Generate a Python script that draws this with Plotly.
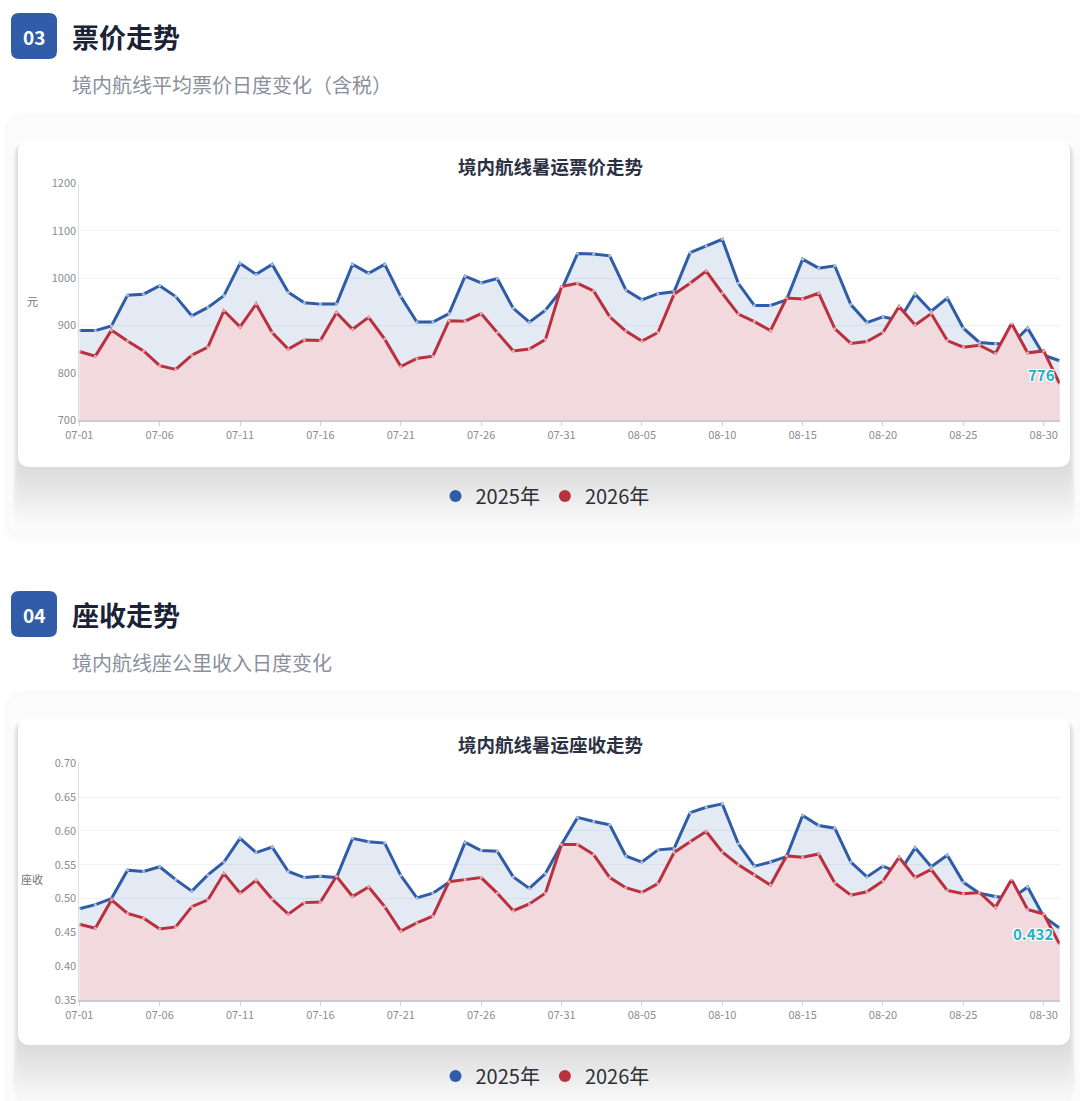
import plotly.graph_objects as go

W, H = 1080, 1101

# ---------------- data ----------------
dates = [f"07-{d:02d}" for d in range(1, 32)] + [f"08-{d:02d}" for d in range(1, 32)]
tick_labels = dates[::5]

price_2025 = [889, 889, 899, 964, 966, 984, 961, 920, 938, 963,
              1031, 1008, 1029, 970, 948, 945, 945, 1029, 1010, 1029,
              961, 907, 907, 925, 1004, 990, 999, 936, 907, 932,
              975, 1052, 1051, 1047, 975, 954, 967, 971, 1054, 1068,
              1082, 989, 942, 942, 954, 1040, 1021, 1026, 944, 906,
              918, 911, 966, 930, 958, 894, 864, 861, 861, 894,
              837, 825]
price_2026 = [845, 835, 890, 867, 846, 815, 807, 837, 854, 931,
              897, 945, 885, 850, 869, 868, 927, 892, 917, 871,
              813, 830, 835, 910, 909, 925, 885, 846, 850, 870,
              982, 989, 973, 918, 888, 867, 885, 966, 989, 1015,
              968, 924, 908, 889, 958, 956, 968, 893, 862, 866,
              885, 940, 901, 925, 868, 854, 858, 841, 904, 842,
              846, 776]

seat_2025 = [0.485, 0.491, 0.500, 0.542, 0.540, 0.547, 0.528, 0.511, 0.535, 0.554,
             0.589, 0.568, 0.576, 0.540, 0.531, 0.533, 0.531, 0.589, 0.584, 0.582,
             0.534, 0.501, 0.508, 0.524, 0.583, 0.571, 0.570, 0.532, 0.515, 0.537,
             0.580, 0.620, 0.614, 0.609, 0.563, 0.554, 0.572, 0.574, 0.627, 0.635,
             0.640, 0.581, 0.548, 0.554, 0.562, 0.623, 0.608, 0.604, 0.554, 0.532,
             0.548, 0.538, 0.575, 0.547, 0.564, 0.524, 0.508, 0.503, 0.500, 0.517,
             0.473, 0.456]
seat_2026 = [0.462, 0.456, 0.498, 0.478, 0.471, 0.455, 0.458, 0.488, 0.498, 0.537,
             0.508, 0.527, 0.499, 0.477, 0.494, 0.495, 0.533, 0.503, 0.517, 0.488,
             0.452, 0.464, 0.474, 0.525, 0.528, 0.531, 0.508, 0.482, 0.492, 0.508,
             0.580, 0.580, 0.565, 0.531, 0.516, 0.509, 0.522, 0.568, 0.584, 0.599,
             0.569, 0.550, 0.535, 0.520, 0.563, 0.561, 0.566, 0.523, 0.505, 0.510,
             0.526, 0.561, 0.531, 0.543, 0.512, 0.507, 0.509, 0.487, 0.528, 0.484,
             0.477, 0.432]

series_names = ["2025年", "2026年"]
price_ticks = [700, 800, 900, 1000, 1100, 1200]
seat_ticks = [0.35, 0.40, 0.45, 0.50, 0.55, 0.60, 0.65, 0.70]

# ---------------- styles ----------------
FONT = "Noto Sans CJK SC, Noto Sans, sans-serif"
BLUE = "#2f5ca6"
RED = "#b9303f"
BLUE_FILL = "rgba(47,92,166,0.13)"
RED_FILL = "#f2d9de"
TEAL = "#22b2c2"
TICK_FONT = dict(family=FONT, size=11, color="#8a8d94")


def px(x):
    return x / W


def py(y):
    return 1 - y / H


fig = go.Figure()

panels = [
    dict(xa="x", ya="y", data=(price_2025, price_2026), legend="legend"),
    dict(xa="x2", ya="y2", data=(seat_2025, seat_2026), legend="legend2"),
]

for p in panels:
    a, b = p["data"]
    fig.add_trace(go.Scatter(
        x=dates, y=a, xaxis=p["xa"], yaxis=p["ya"], mode="lines+markers",
        line=dict(color=BLUE, width=3), fill="tozeroy", fillcolor=BLUE_FILL,
        marker=dict(size=3, color="rgba(255,255,255,0.6)"),
        showlegend=False, hoverinfo="x+y", name=series_names[0]))
    fig.add_trace(go.Scatter(
        x=dates, y=b, xaxis=p["xa"], yaxis=p["ya"], mode="lines+markers",
        line=dict(color=RED, width=3), fill="tozeroy", fillcolor=RED_FILL,
        marker=dict(size=3, color="rgba(255,255,255,0.6)"),
        showlegend=False, hoverinfo="x+y", name=series_names[1]))
    # legend entries (circle icons)
    for nm, col in zip(series_names, [BLUE, RED]):
        fig.add_trace(go.Scatter(
            x=[None], y=[None], xaxis=p["xa"], yaxis=p["ya"], mode="markers",
            marker=dict(size=15, color=col), name=nm, legend=p["legend"],
            showlegend=True))

# ---------------- axes ----------------
axis_common_x = dict(
    type="category", range=[0, 61], tickmode="array", tickvals=tick_labels,
    ticktext=tick_labels, showgrid=False, showline=True, linecolor="#c9ccd4",
    linewidth=1.5, ticks="outside", ticklen=4, tickcolor="#d0d3da",
    tickfont=TICK_FONT, zeroline=False,
    domain=[px(79.3), px(1059.8)], fixedrange=True, automargin=False)

fig.update_layout(
    xaxis=dict(axis_common_x, anchor="y"),
    yaxis=dict(range=[700, 1200], tickvals=price_ticks, domain=[py(420), py(183.5)],
               showgrid=True, gridcolor="#f1f2f5", showline=True, linecolor="#dcdfe6",
               linewidth=1, zeroline=False, ticks="", tickfont=TICK_FONT,
               anchor="x", fixedrange=True, automargin=False),
    xaxis2=dict(axis_common_x, anchor="y2"),
    yaxis2=dict(range=[0.35, 0.70], tickvals=seat_ticks, tickformat=".2f",
                domain=[py(1000), py(763.3)],
                showgrid=True, gridcolor="#f1f2f5", showline=True, linecolor="#dcdfe6",
                linewidth=1, zeroline=False, ticks="", tickfont=TICK_FONT,
                anchor="x2", fixedrange=True, automargin=False),
)

# ---------------- decorations ----------------
shapes = []


def rrect(x0, y0, x1, y1, r, fill, layer="below"):
    X0, X1 = px(x0), px(x1)
    Y0, Y1 = py(y0), py(y1)
    rx, ry = r / W, r / H
    path = (f"M {X0+rx},{Y0} L {X1-rx},{Y0} Q {X1},{Y0} {X1},{Y0-ry} "
            f"L {X1},{Y1+ry} Q {X1},{Y1} {X1-rx},{Y1} L {X0+rx},{Y1} "
            f"Q {X0},{Y1} {X0},{Y1+ry} L {X0},{Y0-ry} Q {X0},{Y0} {X0+rx},{Y0} Z")
    return dict(type="path", path=path, xref="paper", yref="paper",
                fillcolor=fill, line=dict(color="rgba(0,0,0,0)", width=0), layer=layer)


for off, sec in [(0, "03"), (578, "04")]:
    # outer section card with faint shadow
    for k in range(6, 0, -1):
        shapes.append(rrect(8 - k, 117 + off - k, 1090, 536 + off + k * 1.5, 18,
                            "rgba(40,40,50,0.004)"))
    shapes.append(rrect(8, 117 + off, 1090, 534 + off, 18, "rgba(251,251,252,1)"))
    # inner chart card shadow (mostly below)
    for k in range(16, 0, -1):
        shapes.append(rrect(18 - k * 0.35, 140 + off + k * 0.2, 1070 + k * 0.35,
                            467 + off + k * 3.6, 14, "rgba(50,52,60,0.007)"))
    shapes.append(rrect(18, 140 + off, 1070, 467 + off, 12, "white"))
    # badge
    shapes.append(rrect(11, 13 + off, 57, 59 + off, 8, "#305ca8", layer="above"))

fig.update_layout(shapes=shapes)

ann = []
headers = [
    (0, "03", "票价走势", "境内航线平均票价日度变化（含税）", "境内航线暑运票价走势", "元"),
    (578, "04", "座收走势", "境内航线座公里收入日度变化", "境内航线暑运座收走势", "座收"),
]
for off, num, title, sub, ctitle, ylab in headers:
    ann.append(dict(x=px(34), y=py(36 + off), xref="paper", yref="paper", text=f"<b>{num}</b>",
                    showarrow=False, font=dict(family=FONT, size=19, color="white"),
                    xanchor="center", yanchor="middle"))
    ann.append(dict(x=px(70), y=py(36 + off), xref="paper", yref="paper", text=f"<b>{title}</b>",
                    showarrow=False, font=dict(family=FONT, size=27, color="#1b2337"),
                    xanchor="left", yanchor="middle"))
    ann.append(dict(x=px(70), y=py(84 + off), xref="paper", yref="paper", text=sub,
                    showarrow=False, font=dict(family=FONT, size=20, color="#8b909c"),
                    xanchor="left", yanchor="middle"))
    ann.append(dict(x=px(550), y=py(166 + off), xref="paper", yref="paper", text=f"<b>{ctitle}</b>",
                    showarrow=False, font=dict(family=FONT, size=18.5, color="#2b3142"),
                    xanchor="center", yanchor="middle"))
    ann.append(dict(x=px(32), y=py(301 + off), xref="paper", yref="paper", text=ylab,
                    showarrow=False, font=dict(family=FONT, size=11, color="#6f737c"),
                    xanchor="center", yanchor="middle"))

SHADOW = "1px 1px 0 #fff, -1px -1px 0 #fff, 1px -1px 0 #fff, -1px 1px 0 #fff"
ann.append(dict(x=dates[-1], y=price_2026[-1], xref="x", yref="y", text=f"<b>{price_2026[-1]}</b>",
                showarrow=False, xanchor="right", yanchor="middle", xshift=-3, yshift=10,
                font=dict(family=FONT, size=15, color=TEAL, shadow=SHADOW)))
ann.append(dict(x=dates[-1], y=seat_2026[-1], xref="x2", yref="y2", text=f"<b>{seat_2026[-1]:.3f}</b>",
                showarrow=False, xanchor="right", yanchor="middle", xshift=-5, yshift=11,
                font=dict(family=FONT, size=15, color=TEAL, shadow=SHADOW)))

fig.update_layout(annotations=ann)

legend_style = dict(orientation="h", xanchor="center", yanchor="middle", x=px(545),
                    font=dict(family=FONT, size=20, color="#2c2f36"),
                    bgcolor="rgba(0,0,0,0)", itemsizing="constant", itemwidth=30,
                    tracegroupgap=0)

fig.update_layout(
    width=W, height=H,
    margin=dict(l=0, r=0, t=0, b=0, pad=0, autoexpand=False),
    paper_bgcolor="white", plot_bgcolor="rgba(0,0,0,0)",
    font=dict(family=FONT),
    legend=dict(legend_style, y=py(496)),
    legend2=dict(legend_style, y=py(1076)),
    hovermode="closest",
)

fig.write_html(
    "out.html",
    config={"displayModeBar": False},
    post_script="document.body.style.margin='0';document.body.style.overflow='hidden';",
)
